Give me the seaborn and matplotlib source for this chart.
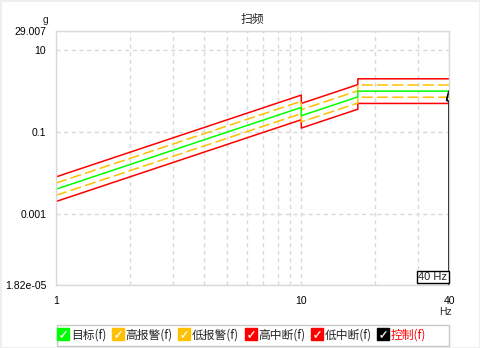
import matplotlib
matplotlib.use("Agg")
import matplotlib.pyplot as plt
from matplotlib.lines import Line2D
from matplotlib.patches import Rectangle
from matplotlib.legend_handler import HandlerTuple
from matplotlib.ticker import NullLocator, NullFormatter
import seaborn as sns

# ---- data ----
freq = [1, 10, 10, 17, 17, 40]
target = [0.004, 0.4, 0.25, 0.7225, 1.0, 1.0]
high_alarm = [0.00565, 0.565, 0.353, 1.02, 1.41, 1.41]
low_alarm = [0.00283, 0.283, 0.177, 0.511, 0.708, 0.708]
high_abort = [0.008, 0.8, 0.5, 1.445, 2.0, 2.0]
low_abort = [0.002, 0.2, 0.125, 0.361, 0.5, 0.5]
control_freq = [40, 39.3, 39.15, 40, 40]
control_val = [1.0, 0.68, 0.6, 0.56, 1e-8]

legend_labels = ["目标(f)", "高报警(f)", "低报警(f)", "高中断(f)", "低中断(f)", "控制(f)"]
y_ticks = [1.82e-05, 0.001, 0.1, 10, 29.007]
y_tick_labels = ["1.82e-05", "0.001", "0.1", "10", "29.007"]
x_ticks = [1, 10, 40]
x_tick_labels = ["1", "10", "40"]
x_minor = [2, 3, 4, 5, 6, 7, 8, 9, 20, 30]

GREEN, YELLOW, RED, BLACK = "#00ff00", "#ffc000", "#ff0000", "#000000"
GRID = "#d9d9d9"

sns.set_style("white")
plt.rcParams["font.family"] = ["Liberation Sans", "Noto Sans CJK SC", "DejaVu Sans"]
plt.rcParams["lines.scale_dashes"] = False

fig = plt.figure(figsize=(4.8, 3.48), dpi=100)
fig.patch.set_facecolor("white")
fig.patch.set_edgecolor("#eeeeee")
fig.patch.set_linewidth(2)
ax = fig.add_axes([56 / 480, 1 - 285 / 348, (449 - 56) / 480, (285 - 31.3) / 348])
ax.set_xscale("log")
ax.set_yscale("log")

dash = (0, (8, 3))
sns.lineplot(x=freq, y=high_abort, ax=ax, color=RED, lw=1.1, estimator=None, sort=False)
sns.lineplot(x=freq, y=low_abort, ax=ax, color=RED, lw=1.1, estimator=None, sort=False)
sns.lineplot(x=freq, y=high_alarm, ax=ax, color=YELLOW, lw=1.1, linestyle=dash, estimator=None, sort=False)
sns.lineplot(x=freq, y=low_alarm, ax=ax, color=YELLOW, lw=1.1, linestyle=dash, estimator=None, sort=False)
sns.lineplot(x=freq, y=target, ax=ax, color=GREEN, lw=1.1, estimator=None, sort=False)
sns.lineplot(x=control_freq, y=control_val, ax=ax, color=BLACK, lw=1.3, estimator=None, sort=False)

ax.set_xlim(1, 40)
ax.set_ylim(1.82e-05, 29.007)
ax.set_xticks(x_ticks, labels=x_tick_labels)
ax.set_xticks(x_minor, minor=True)
ax.xaxis.set_minor_formatter(NullFormatter())
ax.set_yticks(y_ticks, labels=y_tick_labels)
ax.yaxis.set_minor_locator(NullLocator())
ax.set_xlabel("")
ax.set_ylabel("")

ax.set_axisbelow(True)
ax.grid(True, which="both", axis="x", color=GRID, linestyle=(0, (3, 2.5)), lw=1)
ax.grid(True, which="major", axis="y", color=GRID, linestyle=(0, (3, 2.5)), lw=1)
for s in ax.spines.values():
    s.set_color(GRID)
    s.set_linewidth(1)
ax.tick_params(axis="both", which="both", colors=GRID, labelcolor="black", labelsize=7.5, width=1)
ax.tick_params(axis="y", which="major", length=6, pad=1)
ax.tick_params(axis="x", which="both", length=4, pad=4)

ax.set_title("扫频", fontsize=8.5, family=["Noto Sans CJK SC", "DejaVu Sans"], pad=6)
fig.text(48 / 480, 1 - 23 / 348, "g", ha="right", va="baseline", fontsize=7.5)
fig.text(445 / 480, 1 - 312 / 348, "Hz", ha="center", va="center", fontsize=7.5)
ax.text(0.996, 0.012, "40 Hz", transform=ax.transAxes, ha="right", va="bottom", fontsize=8,
        bbox=dict(boxstyle="square,pad=0.12", fc="white", ec="black", lw=1))

# legend frame
fig.patches.append(Rectangle((57 / 480, 2.5 / 348), (449 - 57) / 480, 20.5 / 348,
                             transform=fig.transFigure, fill=False, ec="#c8c8c8", lw=1))

colors = [GREEN, YELLOW, YELLOW, RED, RED, BLACK]
handles = []
for c in colors:
    sq = Line2D([], [], marker="s", markersize=9.3, color=c, markeredgecolor=c, linestyle="")
    ck = Line2D([], [], marker="$\\checkmark$", markersize=4.5, color="white", markeredgecolor="white",
                markeredgewidth=0.2, linestyle="")
    handles.append((sq, ck))
leg = fig.legend(handles, legend_labels, handler_map={tuple: HandlerTuple(ndivide=1)},
                 loc="center left", bbox_to_anchor=(55 / 480, 12.5 / 348),
                 ncol=6, borderaxespad=0, frameon=False,
                 handlelength=1.0, handleheight=1.0, handletextpad=0.15,
                 columnspacing=0.48, borderpad=0.2,
                 prop={"family": ["Noto Sans CJK SC", "DejaVu Sans"], "size": 8.5})
leg.get_texts()[5].set_color("red")

fig.savefig("out.png", dpi=100)
